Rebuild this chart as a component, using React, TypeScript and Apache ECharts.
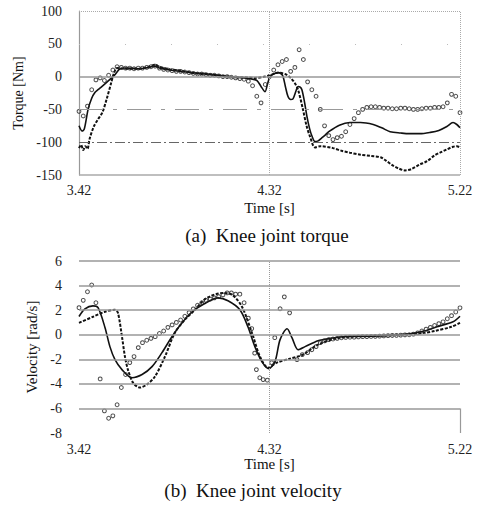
import React, { useEffect, useRef } from "react";
import * as echarts from "echarts";

// ---------- data ----------
const T0 = 3.42;

// (a) Knee joint torque [Nm]  — [time s, value]
const torqueSolid: [number, number][] = [
  [3.42, -75], [3.435, -83], [3.445, -80], [3.463, -50], [3.48, -33], [3.496, -24], [3.51, -20],
  [3.529, -15], [3.557, -7], [3.59, 3], [3.614, 12], [3.64, 13], [3.7, 12], [3.75, 14], [3.78, 16],
  [3.8, 13], [3.85, 10], [3.9, 8], [3.95, 6], [4.0, 5], [4.05, 3], [4.1, 1], [4.15, -1], [4.2, -2],
  [4.24, -4], [4.261, -6], [4.28, -15], [4.299, -23], [4.31, -12], [4.322, 0], [4.34, 4], [4.36, 6],
  [4.375, 4], [4.384, 0], [4.395, -15], [4.407, -30], [4.42, -35], [4.431, -34], [4.445, -22],
  [4.455, -15], [4.465, -16], [4.473, -20], [4.485, -38], [4.497, -61], [4.51, -80], [4.521, -91],
  [4.535, -99], [4.55, -98], [4.565, -94], [4.58, -90], [4.6, -84], [4.65, -74], [4.7, -70],
  [4.75, -70], [4.81, -73], [4.85, -78], [4.89, -84], [4.94, -86], [4.98, -87], [5.03, -87],
  [5.08, -85], [5.12, -82], [5.158, -76], [5.187, -70], [5.205, -73], [5.22, -78],
];
const torqueDashed: [number, number][] = [
  [3.42, -109], [3.43, -104], [3.44, -112], [3.45, -106], [3.46, -110], [3.47, -95], [3.49, -76],
  [3.51, -65], [3.53, -55], [3.55, -35], [3.57, -12], [3.585, 5], [3.6, 13], [3.64, 12], [3.7, 12],
  [3.75, 15], [3.78, 18], [3.8, 15], [3.85, 11], [3.9, 9], [3.95, 6], [4.0, 4], [4.05, 3], [4.1, 1],
  [4.15, -1], [4.2, -1], [4.25, -2], [4.3, 0], [4.33, 3], [4.36, 6], [4.4, 3], [4.42, -2],
  [4.44, -10], [4.455, -20], [4.478, -50], [4.495, -75], [4.511, -91], [4.535, -108], [4.56, -106],
  [4.62, -109], [4.66, -113], [4.7, -116], [4.75, -119], [4.8, -121], [4.845, -123], [4.87, -128],
  [4.9, -135], [4.93, -140], [4.96, -143], [4.99, -141], [5.03, -134], [5.064, -129], [5.1, -120],
  [5.125, -116], [5.158, -111], [5.187, -107], [5.205, -106], [5.22, -108],
];
const torqueCircles: [number, number][] = [
  [3.42, -53], [3.44, -60], [3.46, -45], [3.48, -20], [3.5, -5], [3.52, -2], [3.54, -6], [3.56, 2],
  [3.58, 10], [3.6, 15], [3.62, 14], [3.64, 13], [3.66, 13], [3.68, 12], [3.7, 13], [3.72, 13],
  [3.74, 14], [3.76, 15], [3.78, 16], [3.8, 13], [3.82, 11], [3.84, 10], [3.86, 9], [3.88, 8],
  [3.9, 8], [3.92, 7], [3.94, 6], [3.96, 5], [3.98, 4], [4.0, 4], [4.02, 3], [4.04, 2], [4.06, 2],
  [4.08, 1], [4.1, 0], [4.12, 0], [4.14, -1], [4.16, -2], [4.18, -3], [4.2, -4], [4.22, -7],
  [4.24, -14], [4.26, -30], [4.28, -40], [4.3, -12], [4.32, 0], [4.34, 10], [4.36, 18], [4.38, 23],
  [4.4, 26], [4.42, 8], [4.44, 14], [4.46, 41], [4.48, 26], [4.5, -8], [4.52, -20], [4.54, -30],
  [4.56, -50], [4.58, -75], [4.6, -90], [4.62, -96], [4.64, -93], [4.66, -91], [4.68, -84],
  [4.7, -73], [4.72, -64], [4.74, -55], [4.76, -50], [4.78, -47], [4.8, -46], [4.82, -46],
  [4.84, -47], [4.86, -48], [4.88, -48], [4.9, -49], [4.92, -49], [4.94, -48], [4.96, -48],
  [4.98, -49], [5.0, -50], [5.02, -50], [5.04, -49], [5.06, -48], [5.08, -48], [5.1, -47],
  [5.12, -47], [5.14, -46], [5.16, -40], [5.18, -27], [5.2, -30], [5.22, -55],
];

// (b) Knee joint velocity [rad/s]
const velocitySolid: [number, number][] = [
  [3.42, 1.48], [3.448, 2.1], [3.486, 2.35], [3.51, 2.2], [3.543, 0.57], [3.566, -0.97],
  [3.59, -2.03], [3.623, -2.84], [3.67, -3.5], [3.718, -3.24], [3.765, -2.6], [3.812, -1.46],
  [3.859, -0.16], [3.907, 0.97], [3.955, 1.87], [4.01, 2.5], [4.077, 3.0], [4.124, 2.76],
  [4.18, 2.03], [4.218, 0.65], [4.251, -0.97], [4.284, -2.19], [4.317, -2.76], [4.346, -2.19],
  [4.37, -0.4], [4.403, 0.49], [4.426, -0.24], [4.455, -1.22], [4.488, -0.97], [4.549, -0.49],
  [4.573, -0.4], [4.667, -0.16], [4.828, -0.1], [4.984, 0.08], [5.05, 0.3], [5.111, 0.65],
  [5.187, 1.05], [5.22, 1.5],
];
const velocityDashed: [number, number][] = [
  [3.42, 0.97], [3.486, 1.46], [3.543, 1.87], [3.59, 2.03], [3.604, 1.78], [3.623, -0.16],
  [3.637, -1.78], [3.651, -2.84], [3.675, -3.9], [3.708, -4.3], [3.741, -4.05], [3.779, -3.4],
  [3.826, -1.78], [3.873, 0.16], [3.92, 1.22], [3.968, 2.03], [4.02, 2.95], [4.1, 3.4],
  [4.145, 3.24], [4.19, 2.27], [4.237, 0.16], [4.275, -1.78], [4.313, -2.68], [4.355, -2.27],
  [4.416, -1.95], [4.478, -1.62], [4.549, -0.81], [4.65, -0.25], [4.8, -0.1], [4.95, 0.0],
  [5.05, 0.15], [5.1, 0.3], [5.18, 0.65], [5.22, 0.97],
];
const velocityCircles: [number, number][] = [
  [3.42, 2.2], [3.44, 2.8], [3.46, 3.5], [3.48, 4.05], [3.5, 2.6], [3.52, -3.6], [3.54, -6.2],
  [3.56, -6.8], [3.58, -6.6], [3.6, -5.7], [3.62, -4.3], [3.64, -3.24], [3.66, -2.27],
  [3.68, -1.78], [3.7, -1.05], [3.72, -0.65], [3.74, -0.45], [3.76, -0.3], [3.78, -0.16],
  [3.8, 0.1], [3.82, 0.3], [3.84, 0.6], [3.86, 0.8], [3.88, 1.0], [3.9, 1.2], [3.92, 1.5],
  [3.94, 1.8], [3.96, 2.1], [3.98, 2.4], [4.0, 2.6], [4.02, 2.8], [4.04, 2.9], [4.06, 3.0],
  [4.08, 3.1], [4.1, 3.24], [4.12, 3.4], [4.14, 3.4], [4.16, 3.3], [4.18, 3.3], [4.2, 2.6],
  [4.22, 1.35], [4.236, 0.5], [4.25, -1.5], [4.258, -2.84], [4.274, -3.5], [4.29, -3.65],
  [4.31, -3.7], [4.33, -2.27], [4.345, -0.24], [4.37, 2.11], [4.39, 3.08], [4.415, 1.78],
  [4.45, -2.03], [4.475, -1.62], [4.5, -1.46], [4.52, -1.22], [4.54, -0.97], [4.56, -0.65],
  [4.58, -0.5], [4.6, -0.4], [4.62, -0.35], [4.64, -0.3], [4.66, -0.25], [4.68, -0.22],
  [4.7, -0.2], [4.72, -0.2], [4.74, -0.18], [4.76, -0.16], [4.78, -0.15], [4.8, -0.14],
  [4.82, -0.13], [4.84, -0.12], [4.86, -0.1], [4.88, -0.08], [4.9, -0.06], [4.92, -0.05],
  [4.94, -0.03], [4.96, -0.01], [4.98, 0.0], [5.0, 0.05], [5.02, 0.15], [5.04, 0.3], [5.06, 0.45],
  [5.08, 0.6], [5.1, 0.75], [5.12, 0.9], [5.14, 1.05], [5.16, 1.3], [5.18, 1.55], [5.2, 1.85],
  [5.22, 2.19],
];

const torqueGrid = [100, 50, 0, -50, -100, -150];
const velocityGrid = [6, 4, 2, 0, -2, -4, -6];

// ---------- chart ----------
const SERIF = "'Liberation Serif', 'Times New Roman', serif";
const toOff = (d: [number, number][]) => d.map(([t, v]) => [+(t - T0).toFixed(4), v]);

export default function App() {
  const ref = useRef<HTMLDivElement>(null);
  useEffect(() => {
    if (!ref.current) return;
    const chart = echarts.init(ref.current, undefined, { renderer: "svg" });

    const axisLabel = { fontFamily: SERIF, fontSize: 14, color: "#222" };
    const xLabelFmt = (v: number) => (v + T0).toFixed(2);

    const topLineStyles: any[] = [
      { type: "dotted", color: "#aaa", width: 1 },
      { type: [1, 45], color: "#bbb", width: 1 },
      { type: "solid", color: "#999", width: 1.5 },
      { type: [24, 10, 4, 10], color: "#999", width: 1.2 },
      { type: [10, 3, 2, 3], color: "#666", width: 1 },
      { type: "solid", color: "#aaa", width: 1.5 },
    ];

    const lineBase = (data: any, xi: number, dashed: boolean) => ({
      type: "line",
      xAxisIndex: xi,
      yAxisIndex: xi,
      data,
      showSymbol: false,
      smooth: 0.3,
      z: 3,
      lineStyle: dashed
        ? { color: "#111", width: 2, type: [3, 1.5] }
        : { color: "#111", width: 1.6, type: "solid" },
    });
    const circles = (data: any, xi: number) => ({
      type: "scatter",
      xAxisIndex: xi,
      yAxisIndex: xi,
      data,
      symbol: "circle",
      symbolSize: 3.8,
      z: 4,
      itemStyle: { color: "transparent", borderColor: "#222", borderWidth: 1 },
    });

    const option: any = {
      animation: false,
      backgroundColor: "#fff",
      textStyle: { fontFamily: SERIF },
      grid: [
        { left: 79, top: 11, width: 381, height: 164 },
        { left: 79, top: 261, width: 381, height: 172 },
      ],
      xAxis: [0, 1].map((i) => ({
        type: "value",
        gridIndex: i,
        min: 0,
        max: 1.8,
        interval: 0.9,
        axisLine: { show: false },
        axisTick: { show: false },
        splitLine: { show: false },
        axisLabel: { ...axisLabel, margin: i === 0 ? 8 : 9, formatter: xLabelFmt },
        name: "Time [s]",
        nameLocation: "middle",
        nameGap: i === 0 ? 25 : 20,
        nameTextStyle: { fontFamily: SERIF, fontSize: 15, color: "#111" },
      })),
      yAxis: [
        {
          type: "value",
          gridIndex: 0,
          min: -150,
          max: 100,
          interval: 50,
          axisLine: { show: true, lineStyle: { color: "#999", width: 1.2 } },
          axisTick: { show: false },
          splitLine: { show: false },
          axisLabel: { ...axisLabel, margin: 17 },
          name: "Torque [Nm]",
          nameLocation: "middle",
          nameRotate: 90,
          nameGap: 52,
          nameTextStyle: { fontFamily: SERIF, fontSize: 14, color: "#111" },
        },
        {
          type: "value",
          gridIndex: 1,
          min: -8,
          max: 6,
          interval: 2,
          axisLine: { show: false },
          axisTick: { show: false },
          splitLine: { show: false },
          axisLabel: { ...axisLabel, margin: 17 },
          name: "Velocity [rad/s]",
          nameLocation: "middle",
          nameRotate: 90,
          nameGap: 35,
          nameTextStyle: { fontFamily: SERIF, fontSize: 15, color: "#111" },
        },
      ],
      series: [
        {
          type: "line",
          xAxisIndex: 0,
          yAxisIndex: 0,
          data: [],
          z: 1,
          markLine: {
            silent: true,
            symbol: ["none", "none"],
            label: { show: false },
            data: [
              ...torqueGrid.map((v, k) => ({ yAxis: v, lineStyle: topLineStyles[k] })),
              { xAxis: 0.9, lineStyle: { type: "dotted", color: "#aaa", width: 1 } },
              { xAxis: 1.8, lineStyle: { type: "dotted", color: "#aaa", width: 1 } },
            ],
          },
        },
        {
          type: "line",
          xAxisIndex: 1,
          yAxisIndex: 1,
          data: [],
          z: 1,
          markLine: {
            silent: true,
            symbol: ["none", "none"],
            label: { show: false },
            data: [
              ...velocityGrid.map((v) => ({
                yAxis: v,
                lineStyle: { type: "solid", color: "#999", width: 1.5 },
              })),
              { xAxis: 0.9, lineStyle: { type: "dotted", color: "#999", width: 1 } },
              [
                { coord: [1.8, -6], lineStyle: { type: "solid", color: "#999", width: 1.2 } },
                { coord: [1.8, -8] },
              ],
            ],
          },
        },
        lineBase(toOff(torqueSolid), 0, false),
        lineBase(toOff(torqueDashed), 0, true),
        circles(toOff(torqueCircles), 0),
        lineBase(toOff(velocitySolid), 1, false),
        lineBase(toOff(velocityDashed), 1, true),
        circles(toOff(velocityCircles), 1),
      ],
      graphic: [
        {
          type: "text",
          x: 267,
          y: 235,
          style: {
            text: "(a)  Knee joint torque",
            font: `19px ${SERIF}`,
            fill: "#111",
            textAlign: "center",
            textVerticalAlign: "middle",
          },
        },
        {
          type: "text",
          x: 253,
          y: 490,
          style: {
            text: "(b)  Knee joint velocity",
            font: `19px ${SERIF}`,
            fill: "#111",
            textAlign: "center",
            textVerticalAlign: "middle",
          },
        },
      ],
    };
    chart.setOption(option);
    return () => chart.dispose();
  }, []);

  return (
    <div
      ref={ref}
      style={{ position: "absolute", left: 0, top: 0, width: 479, height: 508, background: "#fff" }}
    />
  );
}
